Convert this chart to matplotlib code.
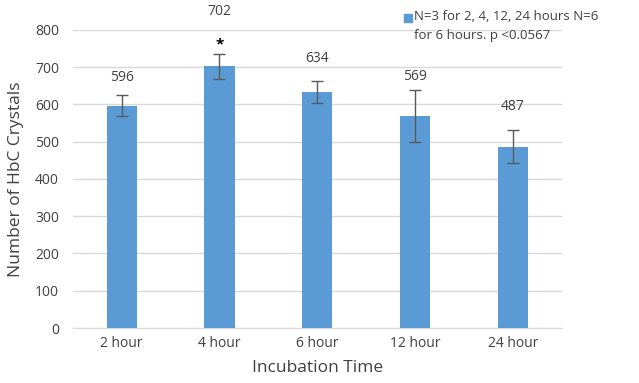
import numpy as np
import matplotlib.pyplot as plt
from matplotlib.patches import Rectangle

plt.rcParams['font.family'] = ['Open Sans', 'DejaVu Sans']

# data
hours = ["2 hour", "4 hour", "6 hour", "12 hour", "24 hour"]
counts = [596, 702, 634, 569, 487]
errors = [28, 33, 30, 69, 44]
label_pad = [47, 115, 58, 38, 64]   # how far the number sits above the error bar
signif = [False, True, False, False, False]

bar_col = "#5b9bd5"
txt_col = "#404040"

fig = plt.figure(figsize=(6.39, 3.83), dpi=100)
ax = fig.add_axes([0.114, 0.1436, 0.765, 0.7784])

x = np.arange(len(hours))
ax.bar(x, counts, width=0.31, color=bar_col, zorder=3)
ax.errorbar(x, counts, yerr=errors, fmt='none', ecolor='#595959',
            elinewidth=1.0, capsize=4, capthick=1.0, zorder=4)

for i in range(len(hours)):
    top = counts[i] + errors[i]
    ax.text(x[i], top + label_pad[i], str(counts[i]), ha='center', va='center',
            fontsize=10, color=txt_col, clip_on=False)
    if signif[i]:
        ax.text(x[i], top + 26, "*", ha='center', va='center',
                fontsize=11, color='black', fontweight='bold')

ax.set_xlim(-0.5, len(hours) - 0.5)
ax.set_ylim(0, 800)
ax.set_yticks(range(0, 801, 100))
ax.set_xticks(x)
ax.set_xticklabels(hours)
ax.grid(axis='y', color='#d9d9d9', linewidth=1.0, zorder=0)
for s in ['top', 'right', 'left']:
    ax.spines[s].set_visible(False)
ax.spines['bottom'].set_color('#d9d9d9')
ax.tick_params(axis='both', length=0, labelsize=10, colors=txt_col, pad=6)
ax.tick_params(axis='y', pad=10)

ax.set_xlabel("Incubation Time", fontsize=12.5, color=txt_col, labelpad=6)
ax.set_ylabel("Number of HbC Crystals", fontsize=12.5, color=txt_col, labelpad=8)

# legend box drawn by hand so the marker lines up with the first line
fig.patches.append(Rectangle((404 / 639, 1 - 21.5 / 383), 8 / 639, 8 / 383,
                             transform=fig.transFigure, color=bar_col))
fig.text(414 / 639, 1 - 17 / 383, "N=3 for 2, 4, 12, 24 hours N=6",
         fontsize=9.5, color=txt_col, va='center')
fig.text(414 / 639, 1 - 36 / 383, "for 6 hours. p <0.0567",
         fontsize=9.5, color=txt_col, va='center')

fig.savefig("out.png", dpi=100)
